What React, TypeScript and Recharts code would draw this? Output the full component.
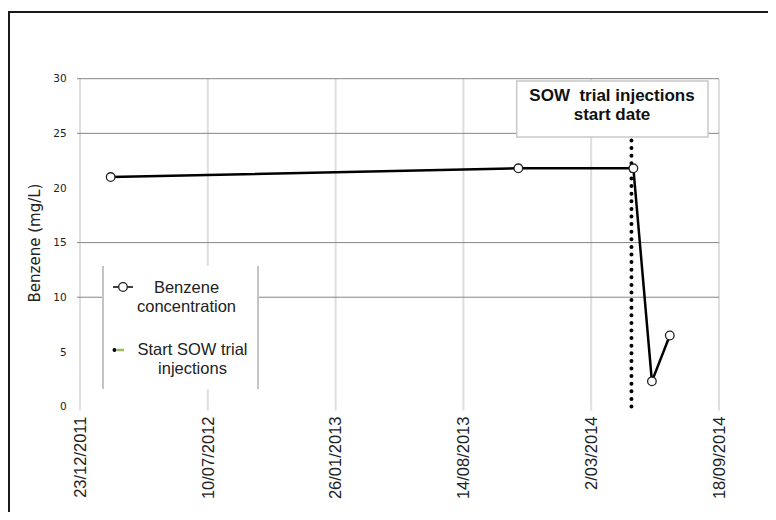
import { LineChart, Line, XAxis, YAxis, CartesianGrid, ReferenceLine } from 'recharts'

// sample dates (ISO) and benzene concentrations (mg/L)
const SAMPLE_DATES = ['2012-02-09', '2013-11-08', '2014-05-07', '2014-06-05', '2014-07-03']
const BENZENE = [21.0, 21.8, 21.8, 2.3, 6.5]

// start of SOW trial injections, drawn as a vertical dotted series
const START_DATE = '2014-05-04'
const START_LEVELS = [0, 28]

const X_TICK_DATES = ['2011-12-23', '2012-07-10', '2013-01-26', '2013-08-14', '2014-03-02', '2014-09-18']
const Y_TICKS = [0, 5, 10, 15, 20, 25, 30]
const Y_GRID = [30, 25, 15, 10]

const toTime = (d: string) => Date.parse(d)
const pad = (n: number) => (n < 10 ? '0' + n : '' + n)
const fmtDate = (t: number) => {
  const d = new Date(t)
  return `${d.getUTCDate()}/${pad(d.getUTCMonth() + 1)}/${d.getUTCFullYear()}`
}

const benzeneData = SAMPLE_DATES.map((d, i) => ({ t: toTime(d), v: BENZENE[i] }))
const startData = START_LEVELS.map(v => ({ t: toTime(START_DATE), v }))
const xTicks = X_TICK_DATES.map(toTime)

// page is 776x520 with an 8px body margin
const W = 760
const H = 504
const chartMargin = { top: 70.7, right: 49, left: 0, bottom: 5.5 }
const SANS = '"Liberation Sans", Arial, sans-serif'
const VERD = '"DejaVu Sans", Verdana, sans-serif'

const XTick = (p: any) => (
  <text x={p.x} y={p.y} dy="0.35em" textAnchor="end" fontFamily={SANS} fontSize={16.5}
    fill="#222" transform={`rotate(-90, ${p.x}, ${p.y})`}>
    {fmtDate(p.payload.value)}
  </text>
)

const YTick = (p: any) => (
  <g>
    {Y_GRID.includes(p.payload.value) &&
      <line x1={69} x2={72} y1={p.y} y2={p.y} stroke="#868686" strokeWidth={1} />}
    <text x={58.7} y={p.y} dy="0.36em" textAnchor="end" fontFamily={VERD} fontSize={10.5} fill="#222">
      {p.payload.value}
    </text>
  </g>
)

const wrapStyle = { position: 'relative' as const, width: W, height: H, overflow: 'visible' as const }
const overlayStyle = { position: 'absolute' as const, left: 0, top: 0, pointerEvents: 'none' as const }

export default function App() {
  return (
    <div style={wrapStyle}>
      <LineChart width={W} height={H} margin={chartMargin}>
        <CartesianGrid horizontal={false} stroke="#dedede" strokeWidth={2} />
        {Y_GRID.map(v => <ReferenceLine key={v} y={v} stroke="#868686" strokeWidth={1} />)}
        <XAxis type="number" dataKey="t" domain={[xTicks[0], xTicks[xTicks.length - 1]]}
          ticks={xTicks} allowDataOverflow height={100} axisLine={false}
          tickLine={{ stroke: '#dedede', strokeWidth: 2 }} tickSize={4} tickMargin={6} tick={XTick}
          interval={0} />
        <YAxis type="number" domain={[0, 30]} ticks={Y_TICKS} width={72}
          axisLine={false} tickLine={false} tick={YTick} interval={0} />
        <Line data={benzeneData} dataKey="v" stroke="#000" strokeWidth={2.5}
          dot={{ r: 4.3, fill: '#fff', stroke: '#222', strokeWidth: 1.3 }}
          isAnimationActive={false} />
        <Line data={startData} dataKey="v" stroke="#000" strokeWidth={4}
          strokeDasharray="0 7.6" strokeLinecap="round" dot={false}
          isAnimationActive={false} />
      </LineChart>

      <svg width={W} height={H} style={overlayStyle}>
        {/* outer frame (left and top edges visible) */}
        <path d={`M1,${H + 8} L1,4 L${W + 8},4`} fill="none" stroke="#1a1a1a" strokeWidth={2} />

        <text x={27} y={235} dy="0.35em" textAnchor="middle" fontFamily={VERD} fontSize={15}
          fill="#222" transform="rotate(-90, 27, 235)">Benzene (mg/L)</text>

        {/* annotation */}
        <rect x={508.7} y={73} width={191.3} height={56} fill="#fff" stroke="#c8c8c8" strokeWidth={1.5} />
        <text x={604} y={92.7} textAnchor="middle" fontFamily={SANS} fontWeight="bold" fontSize={17}
          fill="#111" style={{ whiteSpace: 'pre' }}>SOW  trial injections</text>
        <text x={604} y={112} textAnchor="middle" fontFamily={SANS} fontWeight="bold" fontSize={17}
          fill="#111">start date</text>

        {/* legend */}
        <rect x={95} y={258} width={155} height={123} fill="#fff" />
        <line x1={95} x2={95} y1={258} y2={381} stroke="#c4c4c4" strokeWidth={2} />
        <line x1={250} x2={250} y1={258} y2={381} stroke="#c4c4c4" strokeWidth={2} />
        <line x1={105} x2={125} y1={279} y2={279} stroke="#000" strokeWidth={1.5} />
        <circle cx={115} cy={279} r={4.3} fill="#fff" stroke="#222" strokeWidth={1.3} />
        <text x={178.5} y={285.3} textAnchor="middle" fontFamily={SANS} fontSize={16.5} fill="#222">Benzene</text>
        <text x={178.5} y={303.5} textAnchor="middle" fontFamily={SANS} fontSize={16.5} fill="#222">concentration</text>
        <circle cx={106.5} cy={342} r={2} fill="#000" />
        <line x1={109} x2={116} y1={342} y2={342} stroke="#9bbb59" strokeWidth={2.5} />
        <text x={184.5} y={347.3} textAnchor="middle" fontFamily={SANS} fontSize={16.5} fill="#222">Start SOW trial</text>
        <text x={184.5} y={365.8} textAnchor="middle" fontFamily={SANS} fontSize={16.5} fill="#222">injections</text>
      </svg>
    </div>
  )
}
